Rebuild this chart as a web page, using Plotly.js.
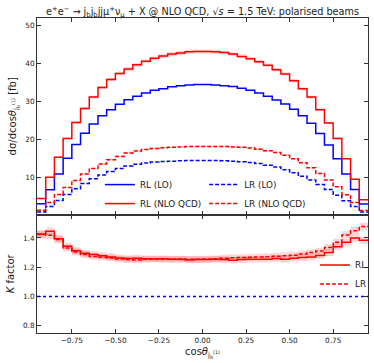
<!DOCTYPE html>
<html>
<head>
<meta charset="utf-8">
<script src="https://cdn.plot.ly/plotly-3.0.1.min.js"></script>
<style>
  body { margin: 0; background: #fff; }
  #plot { width: 374px; height: 363px; }
</style>
</head>
<body>
<div id="plot"></div>
<script>
// binning in cos(theta), width 0.05 from -0.95 to 0.95
var binLow = -0.95;
var binWidth = 0.05;

// differential cross sections [fb], one value per bin
var rlLO = [3.15, 6.8, 11.0, 15.1, 18.7, 21.7, 24.1, 26.3, 27.9, 29.3, 30.5, 31.4, 32.3, 33.0, 33.4, 33.9, 34.2, 34.4, 34.5,
            34.5, 34.4, 34.2, 34.0, 33.5, 33.0, 32.3, 31.4, 30.4, 29.4, 28.0, 26.3, 24.3, 21.6, 18.6, 15.0, 11.0, 6.9, 3.05];
var rlNLO = [4.5, 10.1, 15.4, 20.3, 24.5, 28.2, 31.2, 33.7, 35.8, 37.4, 38.6, 39.7, 40.6, 41.4, 42.0, 42.5, 42.8, 43.1, 43.2,
             43.2, 43.1, 42.9, 42.5, 41.9, 41.3, 40.5, 39.6, 38.4, 37.3, 35.5, 33.4, 31.2, 27.9, 24.4, 20.3, 15.0, 9.6, 4.2];
var lrLO = [1.0, 2.45, 4.0, 5.6, 7.1, 8.5, 9.7, 10.7, 11.6, 12.4, 13.1, 13.55, 13.85, 14.1, 14.25, 14.35, 14.45, 14.5, 14.5,
            14.5, 14.5, 14.45, 14.35, 14.2, 14.0, 13.7, 13.3, 12.8, 12.1, 11.3, 10.4, 9.4, 8.2, 6.9, 5.4, 3.9, 2.4, 0.95];
var lrNLO = [1.42, 3.45, 5.6, 7.45, 9.25, 10.95, 12.4, 13.6, 14.7, 15.6, 16.5, 17.0, 17.4, 17.7, 17.9, 18.0, 18.1, 18.2, 18.2,
             18.2, 18.2, 18.2, 18.1, 18.0, 17.8, 17.5, 17.1, 16.6, 15.9, 15.0, 13.9, 12.6, 11.1, 9.4, 7.6, 5.5, 3.5, 1.4];

// K factors per bin
var kRL = [1.427, 1.446, 1.395, 1.343, 1.313, 1.295, 1.286, 1.279, 1.270, 1.263, 1.259, 1.262, 1.258, 1.256, 1.257, 1.255, 1.254, 1.250, 1.252,
           1.252, 1.254, 1.253, 1.247, 1.252, 1.254, 1.254, 1.255, 1.260, 1.254, 1.262, 1.266, 1.270, 1.280, 1.300, 1.340, 1.370, 1.400, 1.385];
var kLR = [1.423, 1.418, 1.389, 1.331, 1.304, 1.286, 1.274, 1.268, 1.263, 1.256, 1.252, 1.250, 1.254, 1.256, 1.254, 1.254, 1.256, 1.254, 1.255,
           1.256, 1.258, 1.262, 1.265, 1.266, 1.268, 1.270, 1.272, 1.275, 1.278, 1.282, 1.290, 1.300, 1.310, 1.335, 1.370, 1.420, 1.450, 1.478];

// relative half width of the scale uncertainty band
var bandTop = 0.012;
var bandK = 0.018;

var edges = [];
for (var i = 0; i <= rlLO.length; i++) edges.push(+(binLow + i * binWidth).toFixed(3));

// repeat last value so the step reaches the right edge
function stepY(vals) { return vals.concat([vals[vals.length - 1]]); }
function scaled(vals, f) { return vals.map(v => v * f); }

var red = '#ff0000', blue = '#0000ff', pink = 'rgba(255,0,0,0.16)';

function line(vals, name, color, dash, xa, ya, legend) {
    return {
        x: edges, y: stepY(vals), name: name, type: 'scatter', mode: 'lines',
        line: {shape: 'hv', color: color, width: 1.5, dash: dash},
        xaxis: xa, yaxis: ya, legend: legend
    };
}
function band(vals, rel, xa, ya) {
    var lo = {x: edges, y: stepY(scaled(vals, 1 - rel)), type: 'scatter', mode: 'lines',
        line: {shape: 'hv', width: 0}, hoverinfo: 'skip', showlegend: false, xaxis: xa, yaxis: ya};
    var hi = {x: edges, y: stepY(scaled(vals, 1 + rel)), type: 'scatter', mode: 'lines', fill: 'tonexty',
        fillcolor: pink, line: {shape: 'hv', width: 0}, hoverinfo: 'skip', showlegend: false, xaxis: xa, yaxis: ya};
    return [lo, hi];
}

var data = [].concat(
    band(rlNLO, bandTop, 'x', 'y'),
    band(lrNLO, bandTop, 'x', 'y'),
    band(kRL, bandK, 'x2', 'y2'),
    band(kLR, bandK, 'x2', 'y2'),
    [
        line(rlLO, 'RL (LO)', blue, 'solid', 'x', 'y', 'legend'),
        line(rlNLO, 'RL (NLO QCD)', red, 'solid', 'x', 'y', 'legend'),
        line(lrLO, 'LR (LO)', blue, '4px,2px', 'x', 'y', 'legend2'),
        line(lrNLO, 'LR (NLO QCD)', red, '4px,2px', 'x', 'y', 'legend2'),
        line(kRL, 'RL', red, 'solid', 'x2', 'y2', 'legend3'),
        line(kLR, 'LR', red, '4px,2px', 'x2', 'y2', 'legend3')
    ]
);

var axisStyle = {
    showline: true, linecolor: '#333', linewidth: 1, mirror: 'ticks',
    ticks: 'inside', ticklen: 4, tickwidth: 1, tickcolor: '#333',
    showgrid: false, zeroline: false,
    tickfont: {size: 7.3, color: '#222'}
};
var xTicks = [-0.75, -0.5, -0.25, 0, 0.25, 0.5, 0.75];
var legendStyle = {bgcolor: 'rgba(0,0,0,0)', font: {size: 8.8, color: '#222'}, tracegroupgap: 0, traceorder: 'normal'};

var layout = {
    width: 374, height: 363,
    margin: {l: 37, r: 2, t: 18, b: 30},
    paper_bgcolor: '#fff', plot_bgcolor: '#fff',
    font: {family: 'DejaVu Sans', color: '#222'},
    showlegend: true,
    title: {
        text: 'e<sup>+</sup>e<sup>−</sup> → j<sub>b</sub>j<sub>b</sub>jjμ<sup>+</sup>ν<sub>μ</sub> + X @ NLO QCD, √<i>s</i> = 1.5 TeV: polarised beams',
        font: {size: 9.7, color: '#222'}, x: 0.5, xref: 'paper', y: 0.968, yanchor: 'middle'
    },
    xaxis: Object.assign({}, axisStyle, {range: [-0.95, 0.95], tickvals: xTicks, showticklabels: false,
        anchor: 'y', matches: 'x2'}),
    yaxis: Object.assign({}, axisStyle, {domain: [0.376, 1], range: [0.3, 52], tickvals: [10, 20, 30, 40, 50],
        title: {text: 'dσ/dcos<i>θ</i><sub>j<sub>b</sub><sup>(1)</sup></sub> [fb]', font: {size: 10}, standoff: 6}}),
    xaxis2: Object.assign({}, axisStyle, {range: [-0.95, 0.95], tickvals: xTicks, tickformat: '.2f', anchor: 'y2',
        title: {text: 'cos<i>θ</i><sub>j<sub>b</sub><sup>(1)</sup></sub>', font: {size: 10}, standoff: 4}}),
    yaxis2: Object.assign({}, axisStyle, {domain: [0, 0.376], range: [0.75, 1.56], tickvals: [0.8, 1.0, 1.2, 1.4],
        tickformat: '.1f', anchor: 'x2',
        title: {text: '<i>K</i> factor', font: {size: 10}, standoff: 6}}),
    legend: Object.assign({}, legendStyle, {x: 0.19, y: 0.441, xanchor: 'left', yanchor: 'middle'}),
    legend2: Object.assign({}, legendStyle, {x: 0.505, y: 0.441, xanchor: 'left', yanchor: 'middle'}),
    legend3: Object.assign({}, legendStyle, {x: 0.84, y: 0.186, xanchor: 'left', yanchor: 'middle'}),
    shapes: [{
        type: 'line', xref: 'x2 domain', x0: 0, x1: 1, yref: 'y2', y0: 1, y1: 1,
        line: {color: blue, width: 1.5, dash: 'dot'}
    }]
};

Plotly.newPlot('plot', data, layout, {staticPlot: true});
</script>
</body>
</html>
